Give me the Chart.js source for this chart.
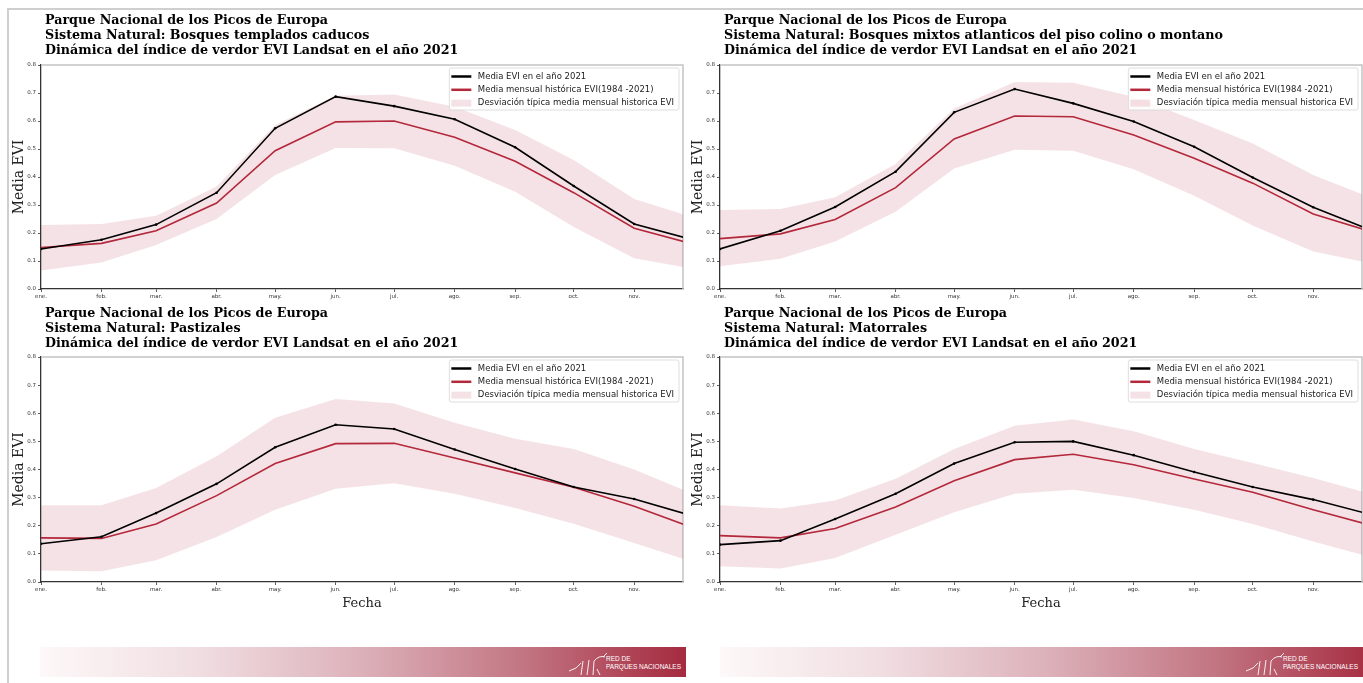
<!DOCTYPE html>
<html lang="es">
<head>
<meta charset="utf-8">
<title>Dinámica del índice de verdor EVI Landsat 2021 - Picos de Europa</title>
<script src="https://cdn.jsdelivr.net/npm/chart.js@4.4.1/dist/chart.umd.min.js"></script>
<style>
  html, body { margin: 0; padding: 0; background: #fff; overflow: hidden; }
  body { width: 1363px; height: 683px; position: relative; }
  .marco { position: absolute; left: 7px; top: 8px; width: 1400px; height: 700px;
           border-left: 2px solid #cfcfcf; border-top: 2px solid #cfcfcf; }
  canvas { position: absolute; }
  .banda { position: absolute; top: 647px; height: 30px;
           background: linear-gradient(to right, #fdf8f9 0%, #f0dde1 25%, #dcb0b9 50%, #c27582 75%, #a52a3f 100%); }
  .logo { position: absolute; right: 5px; top: 8px; color: #fff;
          font: 6.5px "Liberation Sans Narrow", "Liberation Sans", sans-serif; line-height: 8px; }
  .logo svg { position: absolute; right: 70px; top: -4px; }
</style>
</head>
<body>
<div class="marco"></div>
<canvas id="g1" width="677" height="300" style="left:10px; top:9px"></canvas>
<canvas id="g2" width="677" height="300" style="left:689px; top:9px"></canvas>
<canvas id="g3" width="677" height="314" style="left:10px; top:301px"></canvas>
<canvas id="g4" width="677" height="314" style="left:689px; top:301px"></canvas>
<div class="banda" style="left:40px; width:646px">
  <div class="logo"><svg width="44" height="26" viewBox="0 0 44 26"><path d="M2 20 Q10 18 14 12 M14 24 L16 10 M20 24 L22 9 M26 24 L27 10 Q32 4 38 6 M36 6 L40 2 M30 18 L33 24" stroke="#fff" stroke-width="0.9" fill="none"/></svg>RED DE<br>PARQUES NACIONALES</div>
</div>
<div class="banda" style="left:720px; width:660px">
  <div class="logo" style="right:22px"><svg width="44" height="26" viewBox="0 0 44 26"><path d="M2 20 Q10 18 14 12 M14 24 L16 10 M20 24 L22 9 M26 24 L27 10 Q32 4 38 6 M36 6 L40 2 M30 18 L33 24" stroke="#fff" stroke-width="0.9" fill="none"/></svg>RED DE<br>PARQUES NACIONALES</div>
</div>

<script>
// dia del año en que empieza cada mes
var diasMes = [0, 31, 59, 90, 120, 151, 181, 212, 243, 273, 304, 334];
var meses = ['ene.', 'feb.', 'mar.', 'abr.', 'may.', 'jun.', 'jul.', 'ago.', 'sep.', 'oct.', 'nov.', 'dic.'];
var ticksY = [0, 0.1, 0.2, 0.3, 0.4, 0.5, 0.6, 0.7, 0.8];

var etiqueta2021 = 'Media EVI en el año 2021';
var etiquetaMedia = 'Media mensual histórica EVI(1984 -2021)';
var etiquetaDesv = 'Desviación típica media mensual historica EVI';

// Bosques templados caducos
var cad2021 = [0.143, 0.176, 0.230, 0.344, 0.574, 0.687, 0.653, 0.606, 0.506, 0.368, 0.232, 0.176];
var cadMedia = [0.148, 0.163, 0.208, 0.307, 0.494, 0.597, 0.600, 0.542, 0.456, 0.344, 0.217, 0.161];
var cadSup = [0.229, 0.232, 0.262, 0.366, 0.586, 0.690, 0.695, 0.651, 0.568, 0.461, 0.321, 0.256];
var cadInf = [0.066, 0.095, 0.157, 0.250, 0.407, 0.504, 0.503, 0.440, 0.347, 0.221, 0.110, 0.072];

// Bosques mixtos atlanticos
var mix2021 = [0.143, 0.208, 0.293, 0.419, 0.631, 0.714, 0.663, 0.598, 0.508, 0.398, 0.292, 0.209];
var mixMedia = [0.180, 0.197, 0.248, 0.362, 0.536, 0.618, 0.615, 0.550, 0.467, 0.378, 0.268, 0.204];
var mixSup = [0.282, 0.286, 0.328, 0.446, 0.645, 0.739, 0.737, 0.687, 0.604, 0.520, 0.407, 0.325];
var mixInf = [0.081, 0.108, 0.170, 0.276, 0.430, 0.497, 0.494, 0.428, 0.333, 0.227, 0.134, 0.091];

// Pastizales
var pas2021 = [0.136, 0.161, 0.245, 0.349, 0.479, 0.559, 0.544, 0.471, 0.402, 0.338, 0.295, 0.235];
var pasMedia = [0.157, 0.155, 0.206, 0.307, 0.421, 0.492, 0.493, 0.441, 0.388, 0.337, 0.269, 0.193];
var pasSup = [0.273, 0.273, 0.334, 0.447, 0.584, 0.651, 0.635, 0.566, 0.509, 0.473, 0.400, 0.314];
var pasInf = [0.041, 0.038, 0.077, 0.160, 0.257, 0.332, 0.351, 0.314, 0.263, 0.207, 0.139, 0.071];

// Matorrales
var mat2021 = [0.133, 0.147, 0.224, 0.314, 0.421, 0.497, 0.500, 0.451, 0.391, 0.338, 0.293, 0.239];
var matMedia = [0.165, 0.157, 0.190, 0.267, 0.360, 0.435, 0.454, 0.417, 0.366, 0.319, 0.257, 0.201];
var matSup = [0.273, 0.261, 0.290, 0.367, 0.473, 0.556, 0.578, 0.536, 0.473, 0.423, 0.370, 0.312];
var matInf = [0.056, 0.048, 0.085, 0.168, 0.248, 0.314, 0.328, 0.299, 0.257, 0.206, 0.144, 0.088];

var colorNegro = '#000000';
var colorRojo = '#b3283b';
var colorBanda = 'rgba(190, 60, 90, 0.15)';

function puntos(valores) {
    return valores.map(function (v, i) { return { x: diasMes[i], y: v }; });
}

// el titulo empieza un poco a la derecha del eje
var moverTitulo = {
    id: 'moverTitulo',
    afterLayout: function (chart) {
        if (chart.titleBlock) {
            chart.titleBlock.left += 4;
            chart.titleBlock.right += 4;
        }
    }
};

// lineas grises arriba y a la derecha del area del grafico
var bordeGris = {
    id: 'bordeGris',
    beforeDatasetsDraw: function (chart) {
        var a = chart.chartArea, ctx = chart.ctx;
        ctx.save();
        ctx.strokeStyle = '#c4c4c4';
        ctx.lineWidth = 1.5;
        ctx.beginPath();
        ctx.moveTo(a.left, a.top);
        ctx.lineTo(a.right, a.top);
        ctx.lineTo(a.right, a.bottom);
        ctx.stroke();
        ctx.restore();
    }
};

// leyenda dentro del area, arriba a la derecha
var leyendaInterior = {
    id: 'leyendaInterior',
    afterDraw: function (chart) {
        var a = chart.chartArea, ctx = chart.ctx;
        var items = chart.data.datasets.filter(function (d) { return d.label; });
        ctx.save();
        ctx.font = '8.5px "DejaVu Sans"';
        var anchoTexto = Math.max.apply(null, items.map(function (d) { return ctx.measureText(d.label).width; }));
        var w = 2 + 20 + 6.5 + anchoTexto + 5;
        var h = 42;
        var x = a.right - 4 - w, y = a.top + 3;
        ctx.beginPath();
        ctx.roundRect(x, y, w, h, 2);
        ctx.fillStyle = 'rgba(255,255,255,0.85)';
        ctx.fill();
        ctx.strokeStyle = '#d6d6d6';
        ctx.lineWidth = 0.8;
        ctx.stroke();
        items.forEach(function (d, i) {
            var cy = y + 8.5 + i * 13.3;
            if (d.fill) {
                ctx.fillStyle = d.backgroundColor;
                ctx.fillRect(x + 2, cy - 3.5, 20, 7);
            } else {
                ctx.strokeStyle = d.borderColor;
                ctx.lineWidth = 2.5;
                ctx.beginPath();
                ctx.moveTo(x + 2, cy);
                ctx.lineTo(x + 22, cy);
                ctx.stroke();
            }
            ctx.fillStyle = '#222';
            ctx.textBaseline = 'middle';
            ctx.fillText(d.label, x + 28.5, cy);
        });
        ctx.restore();
    }
};

function crearGrafico(id, sistema, serie2021, serieMedia, serieSup, serieInf, conFecha) {
    var ctx = document.getElementById(id).getContext('2d');
    return new Chart(ctx, {
        type: 'line',
        data: {
            datasets: [{
                label: etiqueta2021,
                data: puntos(serie2021),
                borderColor: colorNegro,
                backgroundColor: colorNegro,
                borderWidth: 1.6,
                pointRadius: 1.3,
                pointBorderWidth: 0,
                fill: false
            }, {
                label: etiquetaMedia,
                data: puntos(serieMedia),
                borderColor: colorRojo,
                backgroundColor: colorRojo,
                borderWidth: 1.6,
                pointRadius: 0,
                fill: false
            }, {
                label: etiquetaDesv,
                data: puntos(serieSup),
                borderWidth: 0,
                borderColor: 'rgba(0,0,0,0)',
                backgroundColor: colorBanda,
                pointRadius: 0,
                fill: '+1'
            }, {
                label: '',
                data: puntos(serieInf),
                borderWidth: 0,
                borderColor: 'rgba(0,0,0,0)',
                pointRadius: 0,
                fill: false
            }]
        },
        options: {
            responsive: false,
            animation: false,
            events: [],
            layout: { padding: 0 },
            plugins: {
                legend: { display: false },
                tooltip: { enabled: false },
                title: {
                    display: true,
                    align: 'start',
                    fullSize: false,
                    text: ['Parque Nacional de los Picos de Europa', 'Sistema Natural: ' + sistema,
                           'Dinámica del índice de verdor EVI Landsat en el año 2021'],
                    color: '#000',
                    font: { family: 'DejaVu Serif', weight: 'bold', size: 12.7, lineHeight: '15px' },
                    padding: conFecha ? { top: 5.5, bottom: 5.5 } : { top: 4.5, bottom: 6.5 }
                }
            },
            scales: {
                x: {
                    type: 'linear',
                    min: 0,
                    max: 329,
                    afterBuildTicks: function (scale) {
                        scale.ticks = diasMes.filter(function (d) { return d <= scale.max; })
                            .map(function (d) { return { value: d }; });
                    },
                    afterFit: function (scale) { scale.height = conFecha ? 33 : 20; },
                    ticks: {
                        autoSkip: false,
                        maxRotation: 0,
                        padding: 1,
                        color: '#333',
                        font: { family: 'DejaVu Sans', size: 5.5 },
                        callback: function (v) { return meses[diasMes.indexOf(v)]; }
                    },
                    grid: { drawOnChartArea: false, tickLength: 3, color: '#333', lineWidth: 0.8 },
                    border: { display: true, color: '#333', width: 1.3 },
                    title: {
                        display: conFecha,
                        text: 'Fecha',
                        color: '#222',
                        font: { family: 'DejaVu Serif', size: 13 },
                        padding: { top: 0, bottom: 4 }
                    }
                },
                y: {
                    min: 0,
                    max: 0.8,
                    afterBuildTicks: function (scale) {
                        scale.ticks = ticksY.map(function (v) { return { value: v }; });
                    },
                    afterFit: function (scale) { scale.width = 31; },
                    ticks: {
                        padding: 2,
                        color: '#333',
                        font: { family: 'DejaVu Sans', size: 5.5 },
                        callback: function (v) { return v.toFixed(1); }
                    },
                    grid: { drawOnChartArea: false, tickLength: 3, color: '#333', lineWidth: 0.8 },
                    border: { display: true, color: '#333', width: 1.3 },
                    title: {
                        display: true,
                        text: 'Media EVI',
                        color: '#222',
                        font: { family: 'DejaVu Serif', size: 14 },
                        padding: { top: 0.5, bottom: 0 }
                    }
                }
            }
        },
        plugins: [moverTitulo, bordeGris, leyendaInterior]
    });
}

crearGrafico('g1', 'Bosques templados caducos', cad2021, cadMedia, cadSup, cadInf, false);
crearGrafico('g2', 'Bosques mixtos atlanticos del piso colino o montano', mix2021, mixMedia, mixSup, mixInf, false);
crearGrafico('g3', 'Pastizales', pas2021, pasMedia, pasSup, pasInf, true);
crearGrafico('g4', 'Matorrales', mat2021, matMedia, matSup, matInf, true);
</script>
</body>
</html>
